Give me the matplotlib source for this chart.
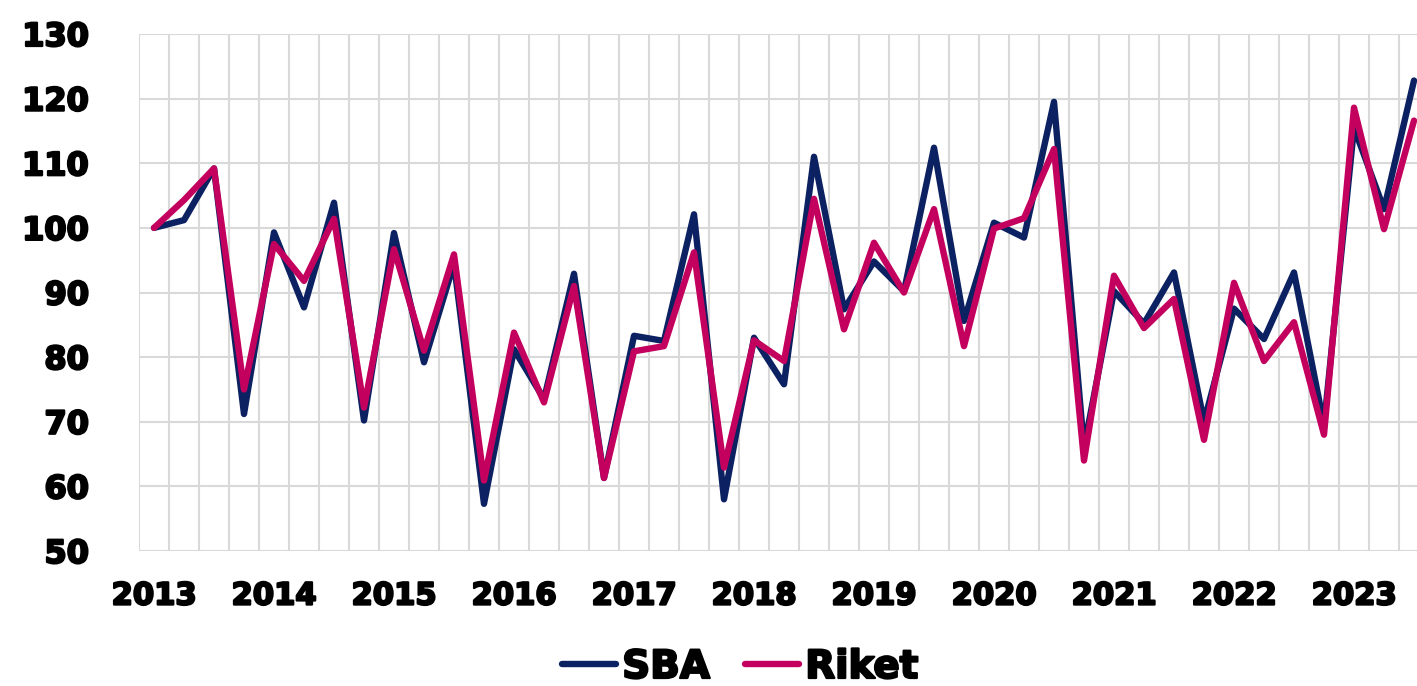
import matplotlib
matplotlib.use("Agg")
from matplotlib import pyplot as plt
from matplotlib.ticker import FixedLocator
import matplotlib.patheffects as pe

plt.rcParams['font.family'] = ['DejaVu Sans']

# kvartal 2013 Q1 - 2023 Q3
years = list(range(2013, 2024))
sba = [100.0, 101.2, 109.2, 71.2, 99.3, 87.7, 103.9, 70.2, 99.2, 79.2, 94.5, 57.3,
       81.2, 73.5, 92.9, 61.3, 83.3, 82.5, 102.1, 58.0, 83.0, 75.8, 111.0, 87.4,
       94.8, 90.2, 112.4, 85.6, 100.8, 98.5, 119.5, 66.0, 90.2, 85.2, 93.1, 70.0,
       87.5, 82.8, 93.1, 69.5, 115.5, 102.9, 122.8]
riket = [100.0, 104.3, 109.2, 75.0, 97.5, 91.8, 101.4, 72.2, 96.7, 81.0, 95.9, 60.9,
         83.8, 73.0, 91.0, 61.3, 80.9, 81.7, 96.2, 62.9, 82.6, 79.4, 104.5, 84.3,
         97.7, 90.0, 102.9, 81.7, 99.9, 101.5, 112.2, 64.0, 92.6, 84.5, 89.0, 67.2,
         91.5, 79.4, 85.4, 68.0, 118.6, 99.8, 116.6]

x = list(range(len(sba)))

fig = plt.figure(figsize=(14.17, 6.86), dpi=100)
ax = fig.add_axes([139/1417, 135/686, 1290/1417, 517/686])

ax.plot(x, sba, color='#0c2161', lw=4.6, solid_joinstyle='round', solid_capstyle='round', label='SBA', zorder=3)
ax.plot(x, riket, color='#c4005e', lw=4.6, solid_joinstyle='round', solid_capstyle='round', label='Riket', zorder=4)

ax.set_xlim(-0.5, len(x) - 0.5)
ax.set_ylim(50, 130)
ax.set_yticks(range(50, 131, 10))
ax.set_xticks(x[::4])
ax.set_xticklabels([str(y) for y in years])
ax.xaxis.set_minor_locator(FixedLocator([i - 0.5 for i in range(len(x) + 1)]))

ax.grid(which='minor', axis='x', color='#d9d9d9', lw=1.5)
ax.grid(which='major', axis='y', color='#d9d9d9', lw=1.5)
ax.set_axisbelow(True)
for s in ax.spines.values():
    s.set_visible(False)
ax.tick_params(axis='both', which='both', length=0)
ax.tick_params(axis='y', pad=36, labelsize=23)
ax.tick_params(axis='x', pad=22, labelsize=22)

# tjockare text
fat = [pe.withStroke(linewidth=1.6, foreground='black')]
for lab in ax.get_xticklabels() + ax.get_yticklabels():
    lab.set_fontweight('bold')
    lab.set_path_effects(fat)

leg = fig.legend(loc='center', bbox_to_anchor=(740/1417, 19/686), ncol=2, frameon=False,
                 prop={'size': 28, 'weight': 'bold'}, handlelength=1.4, handletextpad=0.15,
                 columnspacing=0.9)
for t in leg.get_texts():
    t.set_path_effects(fat)

plt.savefig('out.png', dpi=100)
